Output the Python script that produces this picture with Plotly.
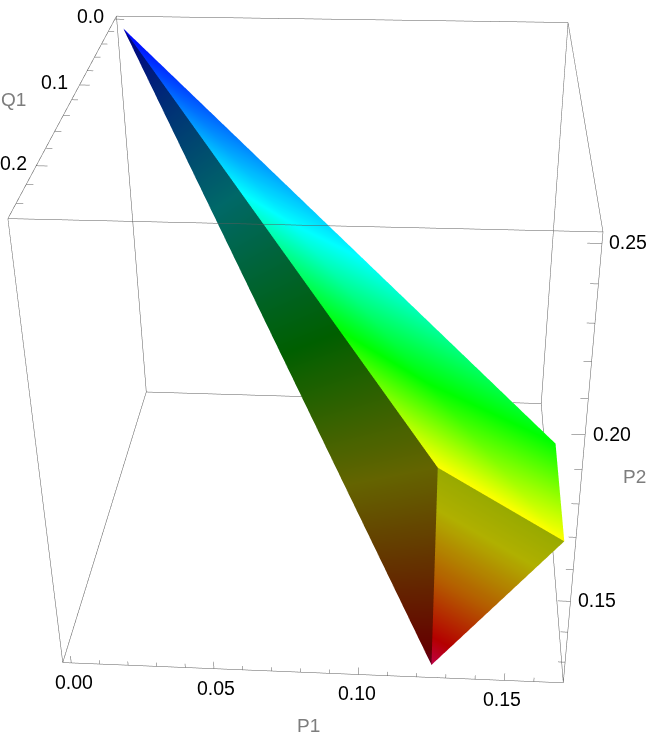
import plotly.graph_objects as go

# axis ranges of the box
p1_range = [-0.003, 0.17]
p2_range = [0.123, 0.2528]
q1_range = [-0.005, 0.255]

# tick positions
p1_major = [0.00, 0.05, 0.10, 0.15]
p1_minor = [0.01, 0.02, 0.03, 0.04, 0.06, 0.07, 0.08, 0.09, 0.11, 0.12, 0.13, 0.14, 0.16]
p2_major = [0.15, 0.20, 0.25]
p2_minor = [0.13, 0.14, 0.16, 0.17, 0.18, 0.19, 0.21, 0.22, 0.23, 0.24]
q1_major = [0.0, 0.1, 0.2]
q1_minor = [0.02, 0.04, 0.06, 0.08, 0.12, 0.14, 0.16, 0.18, 0.22, 0.24]

p1_labels = ["0.00", "0.05", "0.10", "0.15"]
p2_labels = ["0.15", "0.20", "0.25"]
q1_labels = ["0.0", "0.1", "0.2"]

# the solid: apex, tip, ridge end, right corner, upper corner
solid_p1 = [0.0, 0.125, 0.125, 0.1667, 0.1667]
solid_p2 = [0.25, 0.125, 0.1875, 0.1667, 0.1667]
solid_q1 = [0.0, 0.25, 0.25, 0.25, 0.1667]

# faces as (i, j, k) into the solid and the colour position of each vertex
left_i, left_j, left_k = [0], [2], [1]
left_hue = [0.0, 1.35, 1.0, 1.0, 1.0]
right_i, right_j, right_k = [0, 0], [4, 3], [3, 2]
right_hue = [0.0, 1.0, 1.0, 1.0, 0.73]
end_i, end_j, end_k = [2], [3], [1]
end_hue = [0.0, 1.0, 0.0, 0.0, 0.0]

right_scale = [[0, "#0000ff"], [0.42, "#00ffff"], [0.73, "#00ff00"], [1, "#ffff00"]]
left_scale = [
    [0, "#000082"],
    [0.31, "#006868"],
    [0.54, "#005f00"],
    [0.741, "#646400"],
    [0.98, "#640000"],
    [1, "#680020"],
]
end_scale = [
    [0, "#98aa00"],
    [0.2, "#b0b000"],
    [0.55, "#b45a00"],
    [0.85, "#b40000"],
    [1, "#c00046"],
]

LINE_GREY = "#5a5a5a"
TEXT_GREY = "#7d7d7d"
flat = dict(ambient=1, diffuse=0, specular=0, roughness=1, fresnel=0)

fig = go.Figure()


def add_face(i, j, k, hue, scale, cmax):
    fig.add_trace(
        go.Mesh3d(
            x=solid_p1, y=solid_p2, z=solid_q1,
            i=i, j=j, k=k,
            intensity=hue, colorscale=scale, cmin=0, cmax=cmax,
            showscale=False, lighting=flat, hoverinfo="skip",
        )
    )


add_face(left_i, left_j, left_k, left_hue, left_scale, 1.35)
add_face(right_i, right_j, right_k, right_hue, right_scale, 1)
add_face(end_i, end_j, end_k, end_hue, end_scale, 1)

# box edges
x0, x1 = p1_range
y0, y1 = p2_range
z0, z1 = q1_range
edges = [
    ((x0, y0, z0), (x1, y0, z0)), ((x0, y1, z0), (x1, y1, z0)),
    ((x0, y0, z1), (x1, y0, z1)), ((x0, y1, z1), (x1, y1, z1)),
    ((x0, y0, z0), (x0, y1, z0)), ((x1, y0, z0), (x1, y1, z0)),
    ((x0, y0, z1), (x0, y1, z1)), ((x1, y0, z1), (x1, y1, z1)),
    ((x0, y0, z0), (x0, y0, z1)), ((x1, y0, z0), (x1, y0, z1)),
    ((x0, y1, z0), (x0, y1, z1)), ((x1, y1, z0), (x1, y1, z1)),
]
lx, ly, lz = [], [], []
for a, b in edges:
    lx += [a[0], b[0], None]
    ly += [a[1], b[1], None]
    lz += [a[2], b[2], None]

# tick marks
for v, size in [(t, 0.0024) for t in p1_major] + [(t, 0.0013) for t in p1_minor]:
    lx += [v, v, None]
    ly += [y0, y0 + size, None]
    lz += [z1, z1, None]
for v, size in [(t, 0.0042) for t in p2_major] + [(t, 0.0024) for t in p2_minor]:
    lx += [x1, x1 - size, None]
    ly += [v, v, None]
    lz += [z1, z1, None]
for v, size in [(t, 0.0036) for t in q1_major] + [(t, 0.0022) for t in q1_minor]:
    lx += [x0, x0 + size, None]
    ly += [y1, y1, None]
    lz += [v, v, None]

fig.add_trace(
    go.Scatter3d(
        x=lx, y=ly, z=lz, mode="lines",
        line=dict(color=LINE_GREY, width=1), hoverinfo="skip", showlegend=False,
    )
)

# labels
notes = []


def note(x, y, z, text, dx, dy, color="black", size=19.5):
    notes.append(
        dict(
            x=x, y=y, z=z, text=text, showarrow=False,
            xanchor="center", yanchor="middle", xshift=dx, yshift=dy,
            font=dict(family="Liberation Sans", size=size, color=color),
        )
    )


for v, s, dx in zip(p1_major, p1_labels, [3, 2, -1, -2]):
    note(v, y0, z1, s, dx, -19)
for v, s, dx in zip(p2_major, p2_labels, [27, 27, 26]):
    note(x1, v, z1, s, dx, 1)
for v, s, dx in zip(q1_major, q1_labels, [-24, -25, -23]):
    note(x0, y1, v, s, dx, 3)
note(0.085, y0, z1, "P1", -6, -53, TEXT_GREY, 19)
note(x1, 0.19, z1, "P2", 52, -7, TEXT_GREY, 19)
note(x0, y1, 0.125, "Q1", -56, 4, TEXT_GREY, 19)


# lines lying exactly on the axis range get clipped, so the range is a little wider than the box
PAD = 1.04


def padded(r):
    mid, half = (r[0] + r[1]) / 2, (r[1] - r[0]) / 2
    return [mid - half * PAD, mid + half * PAD]


hidden = dict(visible=False)
fig.update_layout(
    width=1170,
    height=1350,
    margin=dict(l=0, r=0, t=0, b=0),
    paper_bgcolor="white",
    showlegend=False,
    scene=dict(
        domain=dict(x=[0, 1], y=[0, 1]),
        xaxis=dict(range=padded(p1_range), **hidden),
        yaxis=dict(range=padded(p2_range), **hidden),
        zaxis=dict(range=padded(q1_range), **hidden),
        aspectmode="manual",
        aspectratio=dict(x=1 * PAD, y=0.98926 * PAD, z=1.02628 * PAD),
        camera=dict(
            eye=dict(x=0.22389, y=1.70551, z=2.96198),
            center=dict(x=0.00038, y=-0.08247, z=0.05062),
            up=dict(x=-0.02834, y=0.85277, z=-0.52154),
        ),
        annotations=notes,
    ),
)

# plotly's field of view is fixed, so the narrow lens needs a larger canvas seen through the window
shift = (
    "var gd = document.getElementById('{plot_id}');"
    "gd.style.position = 'absolute'; gd.style.left = '-260px'; gd.style.top = '-300px';"
    "document.documentElement.style.overflow = 'hidden';"
    "document.body.style.overflow = 'hidden';"
)
fig.write_html("out.html", post_script=shift, config=dict(displayModeBar=False))
